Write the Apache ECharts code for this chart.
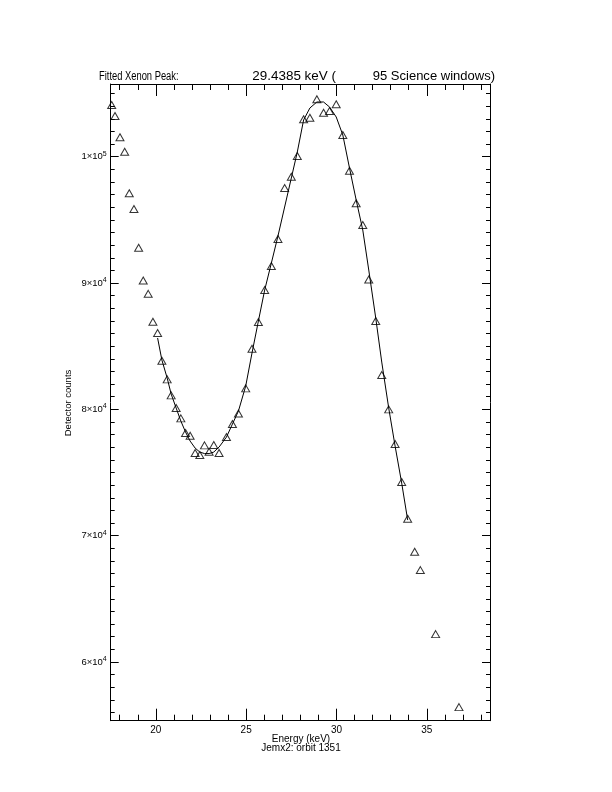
<!DOCTYPE html>
<html><head><meta charset="utf-8">
<script src="https://cdn.jsdelivr.net/npm/echarts@6/dist/echarts.min.js"></script>
<style>html,body{margin:0;padding:0;background:#fff}#c{width:612px;height:792px}</style>
</head><body><div id="c"></div>
<script>
// Measured data points (Energy keV, detector counts)
var energy = [17.555, 17.738, 18.014, 18.273, 18.528, 18.787, 19.047, 19.301, 19.577, 19.837, 20.097, 20.334, 20.627, 20.848, 21.124, 21.384, 21.644, 21.898, 22.174, 22.434, 22.693, 22.948, 23.207, 23.500, 23.909, 24.240, 24.572, 24.975, 25.323, 25.677, 26.025, 26.395, 26.760, 27.130, 27.500, 27.831, 28.180, 28.528, 28.914, 29.285, 29.616, 29.986, 30.351, 30.721, 31.091, 31.456, 31.787, 32.174, 32.506, 32.892, 33.246, 33.611, 33.942, 34.329, 34.644, 35.489, 36.782];
var counts = [104094, 103223, 101536, 100396, 97102, 95859, 92795, 90198, 89144, 86935, 86041, 83847, 82374, 81108, 80102, 79286, 78123, 77909, 76539, 76380, 77149, 76642, 77172, 76539, 77806, 78835, 79666, 81662, 84797, 86911, 89445, 91346, 93483, 97522, 98416, 100055, 102961, 103088, 104545, 103484, 103619, 104149, 101718, 98891, 96310, 94592, 90277, 86991, 82715, 79999, 77252, 74243, 71337, 68724, 67275, 62208, 56427];
// Fitted curve, read at the data energies 20.097 .. 33.942
var fitEnergy = energy.slice(10, 53);
var fitCounts = [85650, 83903, 82477, 81210, 80102, 79073, 78202, 77489, 76935, 76618, 76499, 76499, 76618, 77014, 77806, 78835, 79864, 81844, 84457, 86991, 89445, 91583, 93721, 96017, 98313, 100372, 102906, 103856, 104331, 104331, 103935, 103143, 101718, 99105, 96572, 94196, 91029, 87228, 83744, 80102, 77093, 74164, 71234];
// Axis ticks
var xMajor = [20, 25, 30, 35];
var xMinor = [18, 19, 21, 22, 23, 24, 26, 27, 28, 29, 31, 32, 33, 34, 36, 37, 38];
var yMajor = [60000, 70000, 80000, 90000, 100000];
var yMinor = [];
for (var v = 56000; v <= 105000; v += 1000) { if (v % 10000 !== 0) yMinor.push(v); }
var yLabels = {60000: ['6', '4'], 70000: ['7', '4'], 80000: ['8', '4'], 90000: ['9', '4'], 100000: ['1', '5']};

var xMin = 17.5, xMax = 38.5, yMin = 55352, yMax = 105756;
var FONT = 'Liberation Sans';

function xAx(pos, vals, len, showLabel, showLine) {
  return {
    type: 'value', position: pos, min: xMin, max: xMax,
    axisLine: {show: showLine, onZero: false, lineStyle: {color: '#000', width: 1}},
    axisTick: {show: true, inside: true, length: len, customValues: vals, lineStyle: {color: '#000', width: 1}},
    axisLabel: {show: showLabel, customValues: vals, color: '#000', fontFamily: FONT, fontSize: 10, margin: 5},
    splitLine: {show: false}
  };
}
function yAx(pos, vals, len, showLabel, showLine) {
  return {
    type: 'value', position: pos, min: yMin, max: yMax,
    axisLine: {show: showLine, onZero: false, lineStyle: {color: '#000', width: 1}},
    axisTick: {show: true, inside: true, length: len, customValues: vals, lineStyle: {color: '#000', width: 1}},
    axisLabel: {show: showLabel, customValues: vals, margin: 4, color: '#000',
      formatter: function (val) { var p = yLabels[val]; return p ? '{b|' + p[0] + '×10}{s|' + p[1] + '}' : ''; },
      rich: {b: {fontFamily: FONT, fontSize: 9.5, color: '#000'}, s: {fontFamily: FONT, fontSize: 7, color: '#000', verticalAlign: 'bottom', padding: [0, 0, 6, 0]}}},
    splitLine: {show: false}
  };
}

var chart = echarts.init(document.getElementById('c'), null, {renderer: 'canvas'});
chart.setOption({
  animation: false,
  backgroundColor: '#fff',
  grid: {left: 110.7, right: 122, top: 84, bottom: 71.3, containLabel: false},
  xAxis: [xAx('bottom', xMajor, 12, true, true), xAx('bottom', xMinor, 6, false, false),
          xAx('top', xMajor, 12, false, true), xAx('top', xMinor, 6, false, false)],
  yAxis: [yAx('left', yMajor, 8, true, true), yAx('left', yMinor, 4, false, false),
          yAx('right', yMajor, 8, false, true), yAx('right', yMinor, 4, false, false)],
  series: [
    {type: 'line', xAxisIndex: 0, yAxisIndex: 0, data: fitEnergy.map(function (e, i) { return [e, fitCounts[i]]; }),
     showSymbol: false, symbol: 'none', lineStyle: {color: '#000', width: 1}, clip: true},
    {type: 'scatter', xAxisIndex: 0, yAxisIndex: 0, data: energy.map(function (e, i) { return [e, counts[i]]; }),
     symbol: 'triangle', symbolSize: [8, 7], clip: true,
     itemStyle: {color: 'rgba(0,0,0,0)', borderColor: '#000', borderWidth: 1}}
  ],
  graphic: [
    {type: 'text', x: 99, y: 76.5, scaleX: 0.78, style: {text: 'Fitted Xenon Peak:', font: '12px "Liberation Sans"', fill: '#000', align: 'left', verticalAlign: 'middle'}},
    {type: 'text', x: 252.3, y: 76.5, scaleX: 1.12, style: {text: '29.4385 keV (', font: '12px "Liberation Sans"', fill: '#000', align: 'left', verticalAlign: 'middle'}},
    {type: 'text', x: 372.7, y: 76.5, scaleX: 1.085, style: {text: '95 Science windows)', font: '12px "Liberation Sans"', fill: '#000', align: 'left', verticalAlign: 'middle'}},
    {type: 'text', x: 301, y: 734, style: {text: 'Energy (keV)', font: '10px "Liberation Sans"', fill: '#000', align: 'center', verticalAlign: 'top'}},
    {type: 'text', x: 301, y: 743, style: {text: 'Jemx2: orbit 1351', font: '10px "Liberation Sans"', fill: '#000', align: 'center', verticalAlign: 'top'}},
    {type: 'text', x: 68, y: 403, rotation: Math.PI / 2, style: {text: 'Detector counts', font: '9.5px "Liberation Sans"', fill: '#000', align: 'center', verticalAlign: 'middle'}}
  ]
});
</script></body></html>
